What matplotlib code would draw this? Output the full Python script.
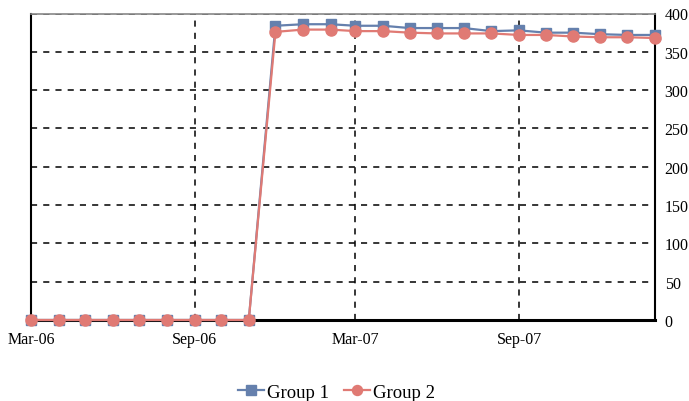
import matplotlib
matplotlib.use("Agg")
import matplotlib.pyplot as plt
import matplotlib.dates as mdates
import pandas as pd

# monthly values, Mar-06 .. Feb-08
months = pd.date_range("2006-03-01", "2008-02-01", freq="MS")
group1 = [0, 0, 0, 0, 0, 0, 0, 0, 0,
          384, 386, 386, 384, 384, 381, 381, 381, 377, 378, 375, 375, 373, 372, 372]
group2 = [0, 0, 0, 0, 0, 0, 0, 0, 0,
          376, 379, 379, 377, 377, 375, 374, 374, 374, 372, 372, 370, 369, 369, 368]
tick_months = pd.to_datetime(["2006-03-01", "2006-09-01", "2007-03-01", "2007-09-01"])

BLUE = "#6580ad"
RED = "#e07a74"

plt.rcParams["font.family"] = ["Liberation Serif", "DejaVu Serif"]

fig = plt.figure(figsize=(6.89, 4.02), dpi=100)
ax = fig.add_axes([31 / 689, 1 - 321 / 402, 624 / 689, 306.5 / 402])

ax.plot(months, group1, color=BLUE, linewidth=1.6, marker="s", markersize=7.5,
        label="Group 1", zorder=3, clip_on=False)
ax.plot(months, group2, color=RED, linewidth=1.6, marker="o", markersize=8,
        label="Group 2", zorder=4, clip_on=False)

ax.set_xlim(months[0], months[-1])
ax.set_ylim(0, 400)
ax.set_yticks(range(0, 401, 50))
ax.set_xticks(tick_months)
ax.xaxis.set_major_formatter(mdates.DateFormatter("%b-%y"))

ax.yaxis.tick_right()
ax.tick_params(axis="both", length=0, labelsize=11.5, colors="black")
ax.tick_params(axis="x", pad=8)
ax.tick_params(axis="y", pad=7)

ax.grid(True, color="black", linestyle=(0, (4, 4)), linewidth=1.1)
ax.set_axisbelow(True)

for side in ["left", "right"]:
    ax.spines[side].set_linewidth(1.5)
    ax.spines[side].set_color("black")
ax.spines["bottom"].set_linewidth(2.2)
ax.spines["top"].set_linewidth(1.2)
ax.spines["top"].set_color("#888888")

ax.legend(loc="center", bbox_to_anchor=(0.49, -0.235), ncol=2, frameon=False,
          fontsize=13.5, handlelength=1.35, handletextpad=0.2, columnspacing=0.8,
          borderaxespad=0, borderpad=0, markerscale=0.9)

fig.savefig("out.png", dpi=100)
